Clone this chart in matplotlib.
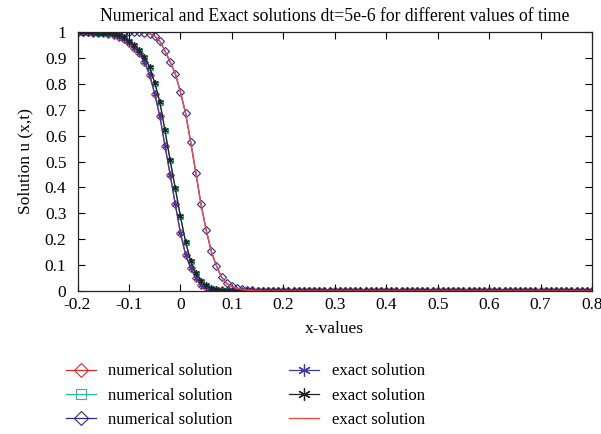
import numpy as np
import matplotlib
matplotlib.use("Agg")
import matplotlib.pyplot as plt
from matplotlib.ticker import FuncFormatter

# x grid, step 0.01 from -0.2 to 0.8
x = np.round(np.arange(-0.2, 0.8001, 0.01), 3)

# left curve (red diamonds / blue star exact)
num1 = [1.0, 1.0, 0.999, 0.998, 0.997, 0.995,
        0.993, 0.989, 0.982, 0.972, 0.958, 0.940, 0.918, 0.885, 0.835, 0.762,
        0.675, 0.560, 0.450, 0.335, 0.225, 0.140, 0.088, 0.050, 0.025, 0.014,
        0.008, 0.004, 0.002, 0.001] + [0.0] * 71
ex1 = list(num1)

# middle curve (cyan squares / black star exact)
num2 = [1.0, 1.0, 1.0, 0.999, 0.998, 0.997,
        0.995, 0.992, 0.988, 0.980, 0.967, 0.950, 0.930, 0.903, 0.866, 0.805,
        0.730, 0.620, 0.505, 0.397, 0.288, 0.190, 0.115, 0.068, 0.040, 0.022,
        0.012, 0.007, 0.004, 0.002, 0.001] + [0.0] * 70
ex2 = list(num2)

# right curve (blue diamonds / red line exact)
num3 = [1.0] * 12 + [0.999, 0.998, 0.994, 0.985, 0.965, 0.927, 0.885, 0.840,
        0.769, 0.687, 0.575, 0.457, 0.335, 0.236, 0.153, 0.097, 0.053, 0.029,
        0.018, 0.010, 0.006, 0.003, 0.002, 0.001] + [0.0] * 65
ex3 = list(num3)

red = "#e3262e"
cyan = "#1fbfa0"
navy = "#2a2a8c"
blue = "#3b3ba8"
black = "#222222"
redline = "#f2494a"

plt.rcParams["font.family"] = ["Liberation Serif", "DejaVu Serif"]
plt.rcParams["axes.unicode_minus"] = False

fig = plt.figure(figsize=(6.01, 4.34), dpi=100)
ax = fig.add_axes([0.129, 0.3295, 0.856, 0.5965])

ms = 3.6
ax.plot(x, num1, color=red, lw=0.9, marker="D", ms=ms, mfc="none", mew=0.8,
        label="numerical solution")
ax.plot(x, num2, color=cyan, lw=0.9, marker="s", ms=ms, mfc="none", mew=0.8,
        label="numerical solution")
ax.plot(x, num3, color=navy, lw=0.9, marker="D", ms=ms, mfc="none", mew=0.8,
        label="numerical solution")
ax.plot(x, ex1, color=blue, lw=0.9, marker=(6, 2, 0), ms=4.5, mew=0.9,
        label="exact solution")
ax.plot(x, ex2, color=black, lw=0.9, marker=(6, 2, 0), ms=4.5, mew=0.9,
        label="exact solution")
ax.plot(x, ex3, color=redline, lw=1.0, label="exact solution")

ax.set_xlim(-0.2, 0.8)
ax.set_ylim(0, 1)
ax.set_xticks(np.round(np.arange(-0.2, 0.81, 0.1), 1))
ax.set_yticks(np.round(np.arange(0, 1.01, 0.1), 1))
fmt = FuncFormatter(lambda v, p: "%g" % round(v, 2))
ax.xaxis.set_major_formatter(fmt)
ax.yaxis.set_major_formatter(fmt)
ax.tick_params(direction="in", top=True, right=True, length=5, width=0.8,
               labelsize=12.5)
ax.tick_params(axis="y", pad=8)
ax.tick_params(axis="x", pad=4)
for s in ax.spines.values():
    s.set_linewidth(0.9)
    s.set_color("#222222")

ax.set_title("Numerical and Exact solutions dt=5e-6 for different values of time",
             fontsize=12.7, pad=8)
ax.set_xlabel("x-values", fontsize=12.5, labelpad=6)
ax.set_ylabel("Solution u (x,t)", fontsize=12.5, labelpad=8)

ax.legend(loc="upper left", bbox_to_anchor=(-0.052, -0.222), ncol=2,
          frameon=False, fontsize=12, markerscale=2.0, handlelength=1.8,
          handletextpad=0.75, columnspacing=3.4, labelspacing=0.5)

fig.savefig("out.png", dpi=100)
